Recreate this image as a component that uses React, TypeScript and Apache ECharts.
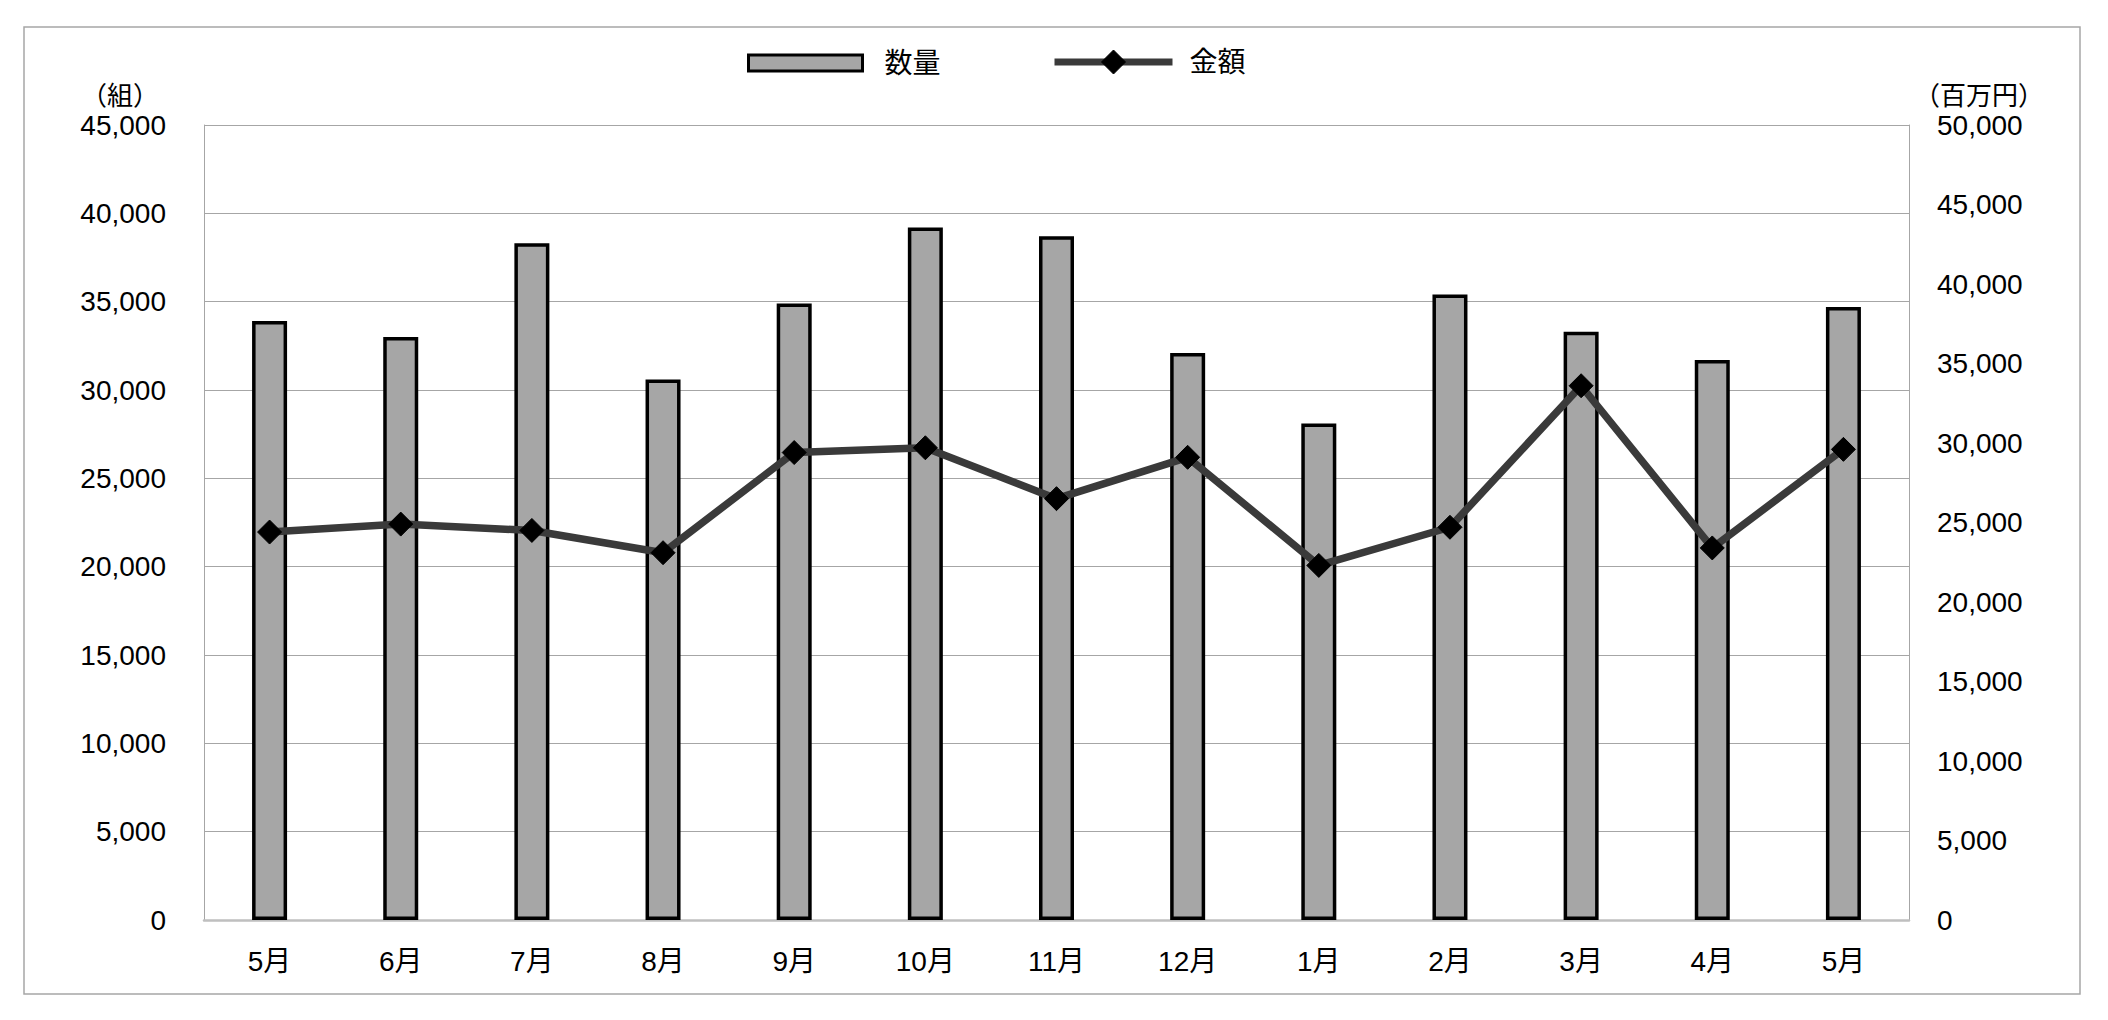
import React, { useEffect, useRef } from "react";
import * as echarts from "echarts";

const categories = ["5月", "6月", "7月", "8月", "9月", "10月", "11月", "12月", "1月", "2月", "3月", "4月", "5月"];
const quantity = [33900, 33000, 38300, 30600, 34900, 39200, 38700, 32100, 28100, 35400, 33300, 31700, 34700];
const amount = [24400, 24900, 24500, 23100, 29400, 29700, 26500, 29100, 22300, 24700, 33600, 23400, 29600];
const leftUnit = "（組）";
const rightUnit = "（百万円）";
const seriesNames = ["数量", "金額"];

const FONT = '"Liberation Sans", Arial, "Noto Sans CJK JP", sans-serif';
const fmt = (v: number) => v.toLocaleString("en-US");

export default function App() {
  const ref = useRef<HTMLDivElement>(null);
  useEffect(() => {
    if (!ref.current) return;
    const chart = echarts.init(ref.current, null, { renderer: "svg" });
    chart.setOption({
      animation: false,
      backgroundColor: "#ffffff",
      grid: { left: 204, right: 199, top: 125, bottom: 100 },
      legend: [
        {
          data: [seriesNames[0]],
          left: 747,
          top: 49,
          padding: 0,
          itemWidth: 114,
          itemHeight: 16,
          icon: "rect",
          selectedMode: false,
          itemStyle: { color: "#a6a6a6", borderColor: "#000", borderWidth: 3 },
          textStyle: { fontSize: 28, fontFamily: FONT, color: "#000", padding: [0, 0, 0, 17] },
        },
        {
          data: [seriesNames[1]],
          left: 1051,
          top: 48,
          padding: 0,
          itemWidth: 118,
          itemHeight: 30,
          selectedMode: false,
          lineStyle: { color: "#3a3a3a", width: 7 },
          itemStyle: { color: "#000", borderColor: "#000", borderWidth: 1 },
          textStyle: { fontSize: 28, fontFamily: FONT, color: "#000", padding: [0, 0, 0, 12] },
        },
      ],
      xAxis: {
        type: "category",
        data: categories,
        axisTick: { show: false },
        axisLine: { show: true, lineStyle: { color: "#bfbfbf", width: 2.5 } },
        axisLabel: { fontSize: 28, fontFamily: FONT, color: "#000", margin: 27, interval: 0 },
      },
      yAxis: [
        {
          type: "value",
          min: 0,
          max: 45000,
          interval: 5000,
          axisLine: { show: true, lineStyle: { color: "#a6a6a6", width: 1 } },
          axisTick: { show: false },
          splitLine: { show: true, lineStyle: { color: "#a6a6a6", width: 1 } },
          axisLabel: { fontSize: 28, fontFamily: FONT, color: "#000", margin: 38, formatter: fmt },
        },
        {
          type: "value",
          min: 0,
          max: 50000,
          interval: 5000,
          position: "right",
          axisLine: { show: true, lineStyle: { color: "#a6a6a6", width: 1 } },
          axisTick: { show: false },
          splitLine: { show: false },
          axisLabel: { fontSize: 28, fontFamily: FONT, color: "#000", margin: 28, formatter: fmt },
        },
      ],
      series: [
        {
          name: seriesNames[0],
          type: "bar",
          data: quantity,
          yAxisIndex: 0,
          barWidth: 35,
          itemStyle: { color: "#a6a6a6", borderColor: "#000", borderWidth: 3.5 },
        },
        {
          name: seriesNames[1],
          type: "line",
          data: amount,
          yAxisIndex: 1,
          symbol: "diamond",
          symbolSize: 24,
          lineStyle: { color: "#3a3a3a", width: 7.5 },
          itemStyle: { color: "#000", borderColor: "#000", borderWidth: 1 },
          z: 5,
        },
      ],
      graphic: [
        {
          type: "rect",
          shape: { x: 24, y: 27, width: 2056, height: 967 },
          style: { fill: "none", stroke: "#a6a6a6", lineWidth: 1.5 },
          silent: true,
        },
        {
          type: "text",
          x: 120,
          y: 96,
          style: { text: leftUnit, font: `26px ${FONT}`, fill: "#000", textAlign: "center", textVerticalAlign: "middle" },
        },
        {
          type: "text",
          x: 1979,
          y: 96,
          style: { text: rightUnit, font: `26px ${FONT}`, fill: "#000", textAlign: "center", textVerticalAlign: "middle" },
        },
      ],
    });
    return () => chart.dispose();
  }, []);
  return <div ref={ref} style={{ position: "fixed", left: 0, top: 0, width: 2108, height: 1020 }} />;
}
